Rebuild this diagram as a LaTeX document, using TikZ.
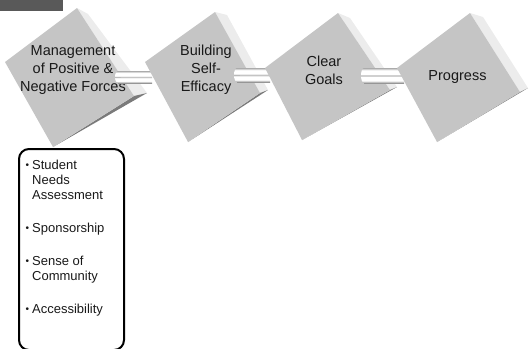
\documentclass[tikz,border=0pt]{standalone}
\usepackage{fontspec}
\setmainfont{Liberation Sans}
\usetikzlibrary{calc}

\definecolor{frontgray}{RGB}{197,197,197}
\definecolor{sidelight}{RGB}{236,236,236}
\definecolor{sidedark}{RGB}{122,122,122}
\definecolor{bardark}{RGB}{89,89,89}
\definecolor{tubegray}{RGB}{150,150,150}
\definecolor{tubemid}{RGB}{185,185,185}

\pgfdeclareverticalshading{tubeshade}{100bp}{color(0bp)=(tubegray); color(25bp)=(tubegray);
  color(33bp)=(white); color(45bp)=(white); color(50bp)=(tubemid); color(55bp)=(white);
  color(67bp)=(white); color(75bp)=(tubegray!80); color(100bp)=(tubegray!80)}

\newcommand\itembullet{\raisebox{1pt}{\fontsize{10}{10}\selectfont\textbullet}}

\begin{document}
\begin{tikzpicture}[x=1pt,y=-1pt,
    front/.style={fill=frontgray},
    lightside/.style={fill=sidelight},
    darkside/.style={fill=sidedark},
    tube/.style={shading=tubeshade},
    cubetext/.style={align=center,inner sep=0pt,font=\fontsize{14.5}{18}\selectfont,text=black!90},
    listbox/.style={draw,line width=2pt,rounded corners=10pt,minimum width=105pt,
      minimum height=201pt,anchor=north west,inner sep=0pt},
    listtext/.style={anchor=north west,inner sep=0pt,font=\fontsize{13}{15}\selectfont,text=black!90}]
                \clip (0,0) rectangle (529,348);
                \fill[bardark] (0,0) rectangle (63,11);

                % management cube
                \fill[lightside] (77,8) -- (88,14) -- (147,93) -- (134,96) -- cycle;
                \fill[darkside] (53,147) -- (134,96) -- (147,93) -- cycle;
                \fill[front] (5,62) -- (77,8) -- (134,96) -- (53,147) -- cycle;
                \node[cubetext] (mgmt) at (73,70) {Management\\of Positive \&\\Negative Forces};

                \coordinate (mgmt-out) at (118,77);
                \coordinate (self-in) at (152,77);
                \shade[tube] ($(mgmt-out)+(0,-6)$) rectangle ($(self-in)+(0,6)$);
                \shade[tube] (mgmt-out) ellipse (3 and 6);

                % self-efficacy cube
                \fill[lightside] (215,12) -- (227,15) -- (268,90) -- (260,93) -- cycle;
                \fill[darkside] (188,142) -- (260,93) -- (268,90) -- cycle;
                \fill[front] (145,62) -- (215,12) -- (260,93) -- (188,142) -- cycle;
                \node[cubetext] (self) at (206,70) {Building\\Self-\\Efficacy};

                \coordinate (self-out) at (237,75);
                \coordinate (goals-in) at (270,75);
                \shade[tube] ($(self-out)+(0,-7)$) rectangle ($(goals-in)+(0,7)$);
                \shade[tube] (self-out) ellipse (3 and 7);

                % goals cube
                \fill[lightside] (338,13) -- (350,18) -- (397,87) -- (390,90) -- cycle;
                \fill[darkside] (302,140) -- (390,90) -- (397,87) -- cycle;
                \fill[front] (265,68) -- (338,13) -- (390,90) -- (302,140) -- cycle;
                \node[cubetext] (goals) at (324,70) {Clear\\Goals};

                \coordinate (goals-out) at (364,75.5);
                \coordinate (prog-in) at (404,75.5);
                \shade[tube] ($(goals-out)+(0,-7.5)$) rectangle ($(prog-in)+(0,7.5)$);
                \shade[tube] (goals-out) ellipse (3 and 7.5);

                % progress cube
                \fill[lightside] (470,13) -- (483,17) -- (528,88) -- (520,92) -- cycle;
                \fill[darkside] (437,142) -- (520,92) -- (528,88) -- cycle;
                \fill[front] (397,68) -- (470,13) -- (520,92) -- (437,142) -- cycle;
                \node[cubetext] (prog) at (457.5,77) {Progress};

                % list of the first step
                \node[listbox] (needsbox) at (18,148) {};
                \node[listtext] (needslist) at (25.5,159) {\begin{tabular}{@{}l@{\hspace{3pt}}l@{}}
                  \itembullet & Student\\ & Needs\\ & Assessment\\[18pt]
                  \itembullet & Sponsorship\\[18pt]
                  \itembullet & Sense of\\ & Community\\[18pt]
                  \itembullet & Accessibility
                \end{tabular}};

                \end{tikzpicture}
\end{document}
